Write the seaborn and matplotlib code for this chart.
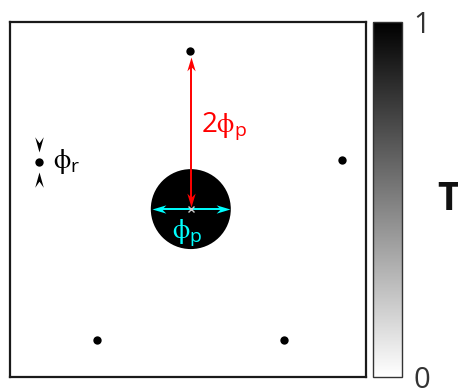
import numpy as np
import matplotlib
matplotlib.use("Agg")
import matplotlib.pyplot as plt
import matplotlib.patches as mpatches
from matplotlib.path import Path
import seaborn as sns
import pandas as pd

# ---- data (units of particle diameter phi_p, y measured from top) ----
domain_size = [4.45, 4.44]
particle_center = [2.26, 2.34]
particle_diameter = 1.0
receiver_x = [2.256, 4.15, 1.0875, 3.425, 0.3625]
receiver_y = [0.3625, 1.725, 3.975, 3.975, 1.75]
cbar_ticks = [0, 1]
cbar_ticklabels = ["0", "1"]
cbar_label = "T"

sns.set_style("white")
plt.rcParams['font.family'] = ['Open Sans', 'DejaVu Sans']
plt.rcParams['mathtext.fontset'] = 'custom'
plt.rcParams['mathtext.rm'] = 'Open Sans'
plt.rcParams['mathtext.it'] = 'Open Sans'
plt.rcParams['mathtext.bf'] = 'Open Sans:bold'

W, H = 458, 389
fig = plt.figure(figsize=(W / 100, H / 100), dpi=100)
ax = fig.add_axes([10 / W, 1 - 377 / H, 356 / W, 355 / H])
cax = fig.add_axes([373 / W, 1 - 377 / H, 29 / W, 355 / H])

ax.set_xlim(0, domain_size[0])
ax.set_ylim(domain_size[1], 0)
ax.set_xticks([])
ax.set_yticks([])
for s in ax.spines.values():
    s.set_linewidth(1.6)
    s.set_color("#1a1a1a")


def head(direction, w=0.3, notch=0.7):
    # notched arrowhead with its tip at the origin (screen coords, y up)
    if direction == "up":
        v = [(0, 0), (w, -1), (0, -notch), (-w, -1), (0, 0)]
    elif direction == "down":
        v = [(0, 0), (w, 1), (0, notch), (-w, 1), (0, 0)]
    elif direction == "left":
        v = [(0, 0), (1, w), (notch, 0), (1, -w), (0, 0)]
    else:
        v = [(0, 0), (-1, w), (-notch, 0), (-1, -w), (0, 0)]
    codes = [Path.MOVETO, Path.LINETO, Path.LINETO, Path.LINETO, Path.CLOSEPOLY]
    return Path(v, codes)


cmap = plt.get_cmap("gray_r")
# particle (T = 1)
circ = mpatches.Circle(particle_center, particle_diameter / 2, facecolor=cmap(1.0),
                       edgecolor="none", zorder=2)
ax.add_patch(circ)

# receivers
df = pd.DataFrame({"x": receiver_x, "y": receiver_y})
sns.scatterplot(data=df, x="x", y="y", ax=ax, s=36, color="black", linewidth=0, zorder=3)
ax.set_xlabel("")
ax.set_ylabel("")

cx, cy = particle_center
r = particle_diameter / 2
hs = 20  # head marker size (points) -> head length ~ hs/2

# red arrow: center to top receiver
top_tip = receiver_y[0] + 0.075
ctr_tip = cy - 0.03
ax.plot([cx, cx], [top_tip + 0.1, ctr_tip - 0.1], color="red", lw=1.4, zorder=4,
        solid_capstyle="butt")
ax.plot([cx], [top_tip], marker=head("up"), ms=hs, color="red", mew=0, zorder=4)
ax.plot([cx], [ctr_tip], marker=head("down"), ms=hs, color="red", mew=0, zorder=4)
ax.text(cx + 0.13, 1.30, r"$\mathregular{2\phi_p}$", color="red", fontsize=20,
        ha="left", va="center", zorder=5)

# cyan arrow: diameter
ax.plot([cx - r + 0.1, cx + r - 0.1], [cy, cy], color="cyan", lw=1.4, zorder=4,
        solid_capstyle="butt")
ax.plot([cx - r + 0.01], [cy], marker=head("left"), ms=hs, color="cyan", mew=0, zorder=4)
ax.plot([cx + r - 0.01], [cy], marker=head("right"), ms=hs, color="cyan", mew=0, zorder=4)
ax.plot([cx], [cy], marker="x", color="#cccccc", ms=5, mew=1, zorder=6)
ax.text(cx - 0.05, cy + 0.29, r"$\mathregular{\phi_p}$", color="cyan", fontsize=20,
        ha="center", va="center", zorder=5)

# phi_r markers
rx, ry = receiver_x[4], receiver_y[4]
ax.plot([rx], [ry - 0.12], marker=head("down", w=0.28, notch=0.6), ms=22,
        color="black", mew=0)
ax.plot([rx], [ry + 0.12], marker=head("up", w=0.28, notch=0.6), ms=22,
        color="black", mew=0)
ax.text(rx + 0.17, ry, r"$\mathregular{\phi_r}$", color="black", fontsize=20,
        ha="left", va="center")

# colorbar
sm = matplotlib.cm.ScalarMappable(norm=matplotlib.colors.Normalize(0, 1), cmap=cmap)
cb = fig.colorbar(sm, cax=cax)
cb.set_ticks(cbar_ticks)
cb.set_ticklabels(cbar_ticklabels)
cb.ax.tick_params(length=0, pad=8, labelsize=21, labelcolor="#333333")
cb.outline.set_linewidth(1.0)
cb.outline.set_edgecolor("#333333")
fig.text(448 / W, 1 - 200 / H, cbar_label, fontsize=28, fontweight="bold",
         ha="center", va="center", color="#111111")

fig.savefig("out.png", dpi=100)
